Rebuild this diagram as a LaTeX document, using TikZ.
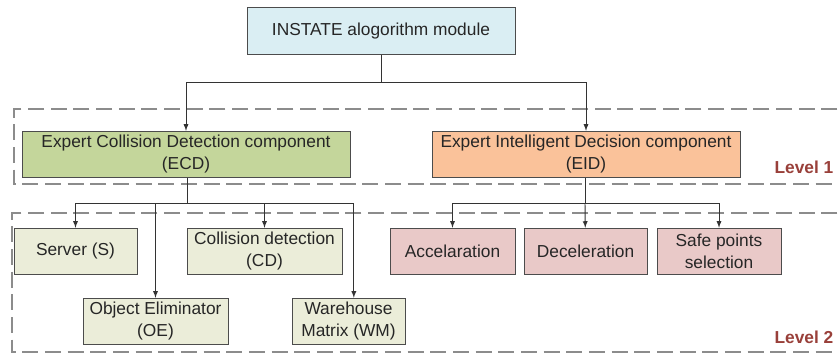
\documentclass[tikz,border=0pt]{standalone}
\usepackage{fontspec}
\setmainfont{Liberation Sans}
\usetikzlibrary{positioning, arrows}
\definecolor{topblue}{HTML}{DAEEF3}
\definecolor{ecdgreen}{HTML}{C4D69B}
\definecolor{eidpeach}{HTML}{FAC29A}
\definecolor{subgreen}{HTML}{EBEDD9}
\definecolor{subpink}{HTML}{E9C9C8}
\definecolor{lvlred}{HTML}{99403A}
\tikzset {
    >=latex,
    x=0.75pt, y=-0.75pt,
    box/.style={draw=black!70, line width=0.6pt, align=center, inner sep=0pt,
        minimum height=35pt, text=black!85,
        font=\fontsize{13}{16.5}\selectfont},
    levelbox/.style={draw=black!45, line width=1.1pt, dash pattern=on 12pt off 5pt},
    lvl/.style={anchor=east, text=lvlred, font=\fontsize{13}{15}\selectfont\bfseries},
    link/.style={black!80, line width=0.7pt}
}

\begin{document}
\begin{tikzpicture}
                    \useasboundingbox (0,0) rectangle (838,354);

                    % level frames
                    \draw[levelbox] (860,109) -- (14,109) -- (14,184) -- (860,184);
                    \draw[levelbox] (860,213) -- (12,213) -- (12,352) -- (860,352);
                    \node[lvl] (l1) at (838,167) {Level 1};
                    \node[lvl] (l2) at (838,337) {Level 2};

                    \node[box, fill=topblue, minimum width=268*0.75pt] (top) at (381,31) {INSTATE alogorithm module};

                    \node[box, fill=ecdgreen, minimum width=328*0.75pt] (ecd) at (186,154.5) {Expert Collision Detection component\\(ECD)};
                    \node[box, fill=eidpeach, minimum width=308*0.75pt] (eid) at (586,154.5) {Expert Intelligent Decision component\\(EID)};

                    \node[box, fill=subgreen, minimum width=123*0.75pt] (srv) at (75.5,251.5) {Server (S)};
                    \node[box, fill=subgreen, minimum width=155*0.75pt] (cd) at (264.5,251.5) {Collision detection\\(CD)};
                    \node[box, fill=subgreen, minimum width=145*0.75pt] (oe) at (155.5,321.5) {Object Eliminator\\(OE)};
                    \node[box, fill=subgreen, minimum width=113*0.75pt] (wm) at (348.5,321.5) {Warehouse\\Matrix (WM)};

                    \node[box, fill=subpink, minimum width=125*0.75pt] (acc) at (452.5,251.5) {Accelaration};
                    \node[box, fill=subpink, minimum width=123*0.75pt] (dec) at (585.5,251.5) {Deceleration};
                    \node[box, fill=subpink, minimum width=124*0.75pt] (safe) at (719,251.5) {Safe points\\selection};

                    \coordinate (j0) at (381,82);
                    \coordinate (j1) at (187,203);
                    \coordinate (j2) at (585,203);

                    \draw[link] (top) -- (j0);
                    \draw[link, ->] (j0) -| (ecd);
                    \draw[link, ->] (j0) -| (eid);

                    \draw[link] (ecd.south -| j1) -- (j1);
                    \draw[link, ->] (j1) -| (srv);
                    \draw[link, ->] (j1) -| (oe);
                    \draw[link, ->] (j1) -| (cd);
                    \draw[link, ->] (j1) -| ([xshift=4pt]wm.north);

                    \draw[link] (eid.south -| j2) -- (j2);
                    \draw[link, ->] (j2) -| (acc);
                    \draw[link, ->] (j2) -- (dec);
                    \draw[link, ->] (j2) -| (safe);
\end{tikzpicture}
\end{document}
